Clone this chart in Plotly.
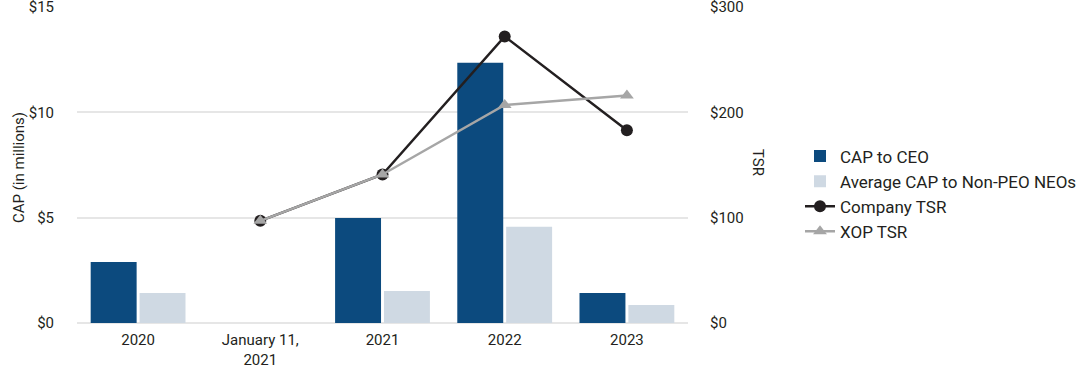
import plotly.graph_objects as go

categories = ["2020", "January 11,<br>2021", "2021", "2022", "2023"]
cap_ceo = [2.9, None, 4.98, 12.35, 1.42]
cap_neo = [1.42, None, 1.52, 4.57, 0.85]
company_tsr = [None, 97, 141, 272, 183]
xop_tsr = [None, 97, 141, 207, 216]

left_ticks = [0, 5, 10, 15]
left_labels = ["$0", "$5", "$10", "$15"]
right_ticks = [0, 100, 200, 300]
right_labels = ["$0", "$100", "$200", "$300"]

FONT = "Roboto"
TXT = "#231f20"
L, R, T, B = 77, 388, 7, 47
PW = 1076 - L - R
PH = 370 - T - B

fig = go.Figure()
fig.add_trace(go.Bar(x=categories, y=cap_ceo, name="CAP to CEO",
                     marker=dict(color="#0c4a7e", line=dict(width=0))))
fig.add_trace(go.Bar(x=categories, y=cap_neo, name="Average CAP to Non-PEO NEOs",
                     marker=dict(color="#cfd9e3", line=dict(width=0))))
fig.add_trace(go.Scatter(x=categories, y=company_tsr, name="Company TSR", yaxis="y2",
                         mode="lines+markers",
                         line=dict(color="#231f20", width=2.5),
                         marker=dict(symbol="circle", size=12, color="#231f20")))
fig.add_trace(go.Scatter(x=categories, y=xop_tsr, name="XOP TSR", yaxis="y2",
                         mode="lines+markers",
                         line=dict(color="#a6a6a6", width=2.5),
                         marker=dict(symbol="triangle-up", size=12, color="#a6a6a6")))

fig.update_layout(
    width=1076, height=370,
    margin=dict(l=L, r=R, t=T, b=B, autoexpand=False),
    paper_bgcolor="white", plot_bgcolor="white",
    font=dict(family=FONT, size=15, color=TXT),
    barmode="group", bargap=0.2, bargroupgap=0.06,
    showlegend=True,
    legend=dict(x=(800 - L) / PW, xanchor="left", y=(323 - 194) / PH, yanchor="middle",
                font=dict(family=FONT, size=17, color=TXT),
                bgcolor="rgba(0,0,0,0)", itemwidth=30),
    xaxis=dict(showgrid=False, showline=False, ticks="", tickfont=dict(size=15),
               ticklabelstandoff=6, automargin=False),
    yaxis=dict(range=[0, 15], tickvals=left_ticks, ticktext=left_labels,
               showgrid=True, gridcolor="#e6e6e6", gridwidth=1.5,
               zeroline=True, zerolinecolor="#e6e6e6", zerolinewidth=1.5,
               showline=False, ticklabelstandoff=22, automargin=False,
               ticklabeloverflow="allow"),
    yaxis2=dict(range=[0, 300], tickvals=right_ticks, ticktext=right_labels,
                overlaying="y", side="right", showgrid=False, zeroline=False,
                showline=False, ticklabelstandoff=21, automargin=False,
                ticklabeloverflow="allow"),
)
fig.add_annotation(text="CAP (in millions)", xref="paper", yref="paper",
                   x=(8 - L) / PW, y=(323 - 168) / PH, showarrow=False, textangle=-90,
                   font=dict(size=15, color=TXT))
fig.add_annotation(text="TSR", xref="paper", yref="paper", x=(769 - L) / PW,
                   y=(323 - 162) / PH,
                   showarrow=False, textangle=90, font=dict(size=15, color=TXT))

fig.write_html("out.html", config={"displayModeBar": False},
               post_script="document.body.style.margin='0';document.body.style.overflow='hidden';")
